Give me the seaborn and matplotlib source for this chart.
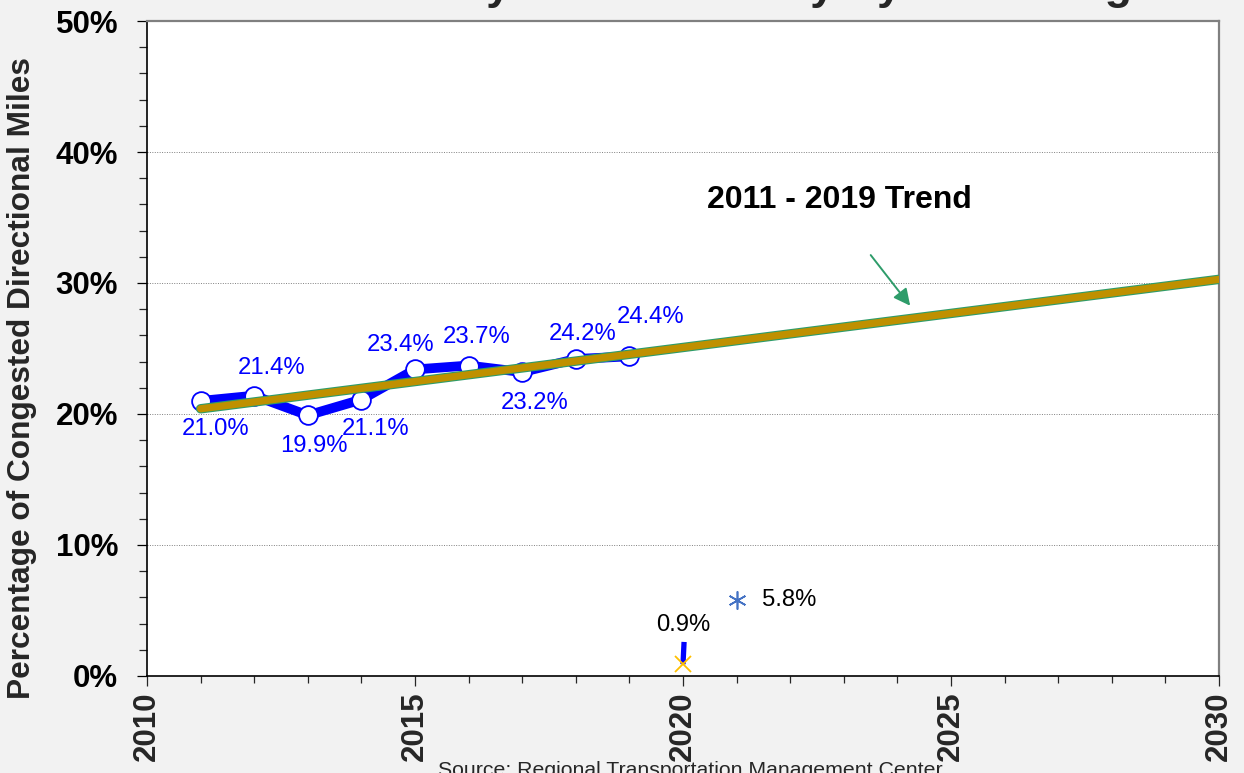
import numpy as np
import matplotlib
matplotlib.use('Agg')
import matplotlib.pyplot as plt
import matplotlib.patheffects as pe
from matplotlib.ticker import MultipleLocator, FuncFormatter
import seaborn as sns

# ---- data ----
years = [2011, 2012, 2013, 2014, 2015, 2016, 2017, 2018, 2019]
congested_pct = [21.0, 21.4, 19.9, 21.1, 23.4, 23.7, 23.2, 24.2, 24.4]
point_labels = ['21.0%', '21.4%', '19.9%', '21.1%', '23.4%', '23.7%', '23.2%', '24.2%', '24.4%']

year_2020 = [2020]
pct_2020 = [0.9]
# short blue stub drawn up from the 2020 point
stub_2020_years = [2020, 2020.02]
stub_2020_pct = [0.9, 2.6]

year_2021 = [2021]
pct_2021 = [5.8]

trend_span = [2011, 2030]
trend_label = '2011 - 2019 Trend'

# label offsets in pixels (dx, dy) from each point
label_offsets = [(15, -28), (17, 28), (6, -31), (14, -29), (-14, 24),
                 (8, 29), (12, -31), (7, 25), (21, 39)]

BLUE = '#0000ff'
GOLD = '#bf9000'
GREEN = '#2e9c6a'

sns.set_style('white')
plt.rcParams['font.family'] = ['Liberation Sans', 'DejaVu Sans']

fig = plt.figure(figsize=(12.44, 7.73), dpi=100, facecolor='#f2f2f2')
ax = fig.add_axes([0.11817, 0.12549, 0.86173, 0.84734])
ax.set_facecolor('white')

# 2011-2019 observed series
sns.lineplot(x=years, y=congested_pct, ax=ax, color=BLUE, lw=7, marker='o',
             markersize=13.5, markerfacecolor='white', markeredgecolor=BLUE,
             markeredgewidth=1.3, zorder=3)

for yr, val, txt, (dx, dy) in zip(years, congested_pct, point_labels, label_offsets):
    ax.annotate(txt, (yr, val), xytext=(dx, dy), textcoords='offset pixels',
                ha='center', va='center', color=BLUE, fontsize=17.2, zorder=6)

# 2020 and 2021 points
ax.plot(stub_2020_years, stub_2020_pct, color=BLUE, lw=3.8, solid_capstyle='butt', zorder=3)
ax.plot(year_2020, pct_2020, ls='none', marker='x', color='#ffc000', markersize=12,
        markeredgewidth=1.3, zorder=4)
ax.annotate('0.9%', (year_2020[0], pct_2020[0]), xytext=(0, 39), textcoords='offset pixels',
            ha='center', va='center', color='black', fontsize=17.2)

ax.plot(year_2021, pct_2021, ls='none', marker=(6, 2, 0), color='#4472c4', markersize=13,
        markeredgewidth=1.2, zorder=4)
ax.annotate('5.8%', (year_2021[0], pct_2021[0]), xytext=(25, 0), textcoords='offset pixels',
            ha='left', va='center', color='black', fontsize=17.2)

# linear trend fitted to 2011-2019
slope, intercept = np.polyfit(years, congested_pct, 1)
trend_x = np.array(trend_span)
trend_y = slope * trend_x + intercept
ax.plot(trend_x, trend_y, color=GOLD, lw=5.2, solid_capstyle='round', zorder=5,
        path_effects=[pe.Stroke(linewidth=6.8, foreground=GREEN), pe.Normal()])

ax.text(0.6455, 0.7267, trend_label, transform=ax.transAxes, ha='center', va='center',
        fontsize=23, fontweight='bold', color='black')
ax.annotate('', xy=(2024.27, slope * 2024.27 + intercept + 0.8), xytext=(2023.47, 32.3),
            arrowprops=dict(arrowstyle='-|>', color=GREEN, lw=1.4, mutation_scale=25))

# axes
ax.set_xlim(2010, 2030)
ax.set_ylim(0, 50)
ax.xaxis.set_major_locator(MultipleLocator(5))
ax.xaxis.set_minor_locator(MultipleLocator(1))
ax.yaxis.set_major_locator(MultipleLocator(10))
ax.yaxis.set_minor_locator(MultipleLocator(2))
ax.yaxis.set_major_formatter(FuncFormatter(lambda v, p: f'{v:.0f}%'))
ax.xaxis.set_major_formatter(FuncFormatter(lambda v, p: f'{v:.0f}'))
ax.tick_params(axis='y', which='major', direction='out', length=7.2, width=0.9,
               pad=13.5, labelsize=22.5, colors='black', left=True)
ax.tick_params(axis='y', which='minor', direction='out', length=5.8, width=0.9, left=True)
ax.tick_params(axis='x', which='major', direction='out', length=7, width=0.9,
               pad=4, labelsize=22.5, labelrotation=90, bottom=True)
ax.tick_params(axis='x', which='minor', direction='out', length=5, width=0.9, bottom=True)
for lab in ax.get_xticklabels() + ax.get_yticklabels():
    lab.set_fontweight('bold')

ax.grid(axis='y', which='major', color='#808080', ls=(0, (1, 1.5)), lw=0.7)
ax.grid(axis='x', visible=False)

for side in ['left', 'bottom']:
    ax.spines[side].set_color('black')
    ax.spines[side].set_linewidth(1.2)
for side in ['top', 'right']:
    ax.spines[side].set_color('#808080')
    ax.spines[side].set_linewidth(1.6)
for s in ax.spines.values():
    s.set_visible(True)

ax.set_ylabel('')
fig.text(22 / 1244, 1 - 378 / 773, 'Percentage of Congested Directional Miles', rotation=90,
         ha='center', va='center', fontsize=22.8, fontweight='bold')

# title sits mostly above the canvas, only descenders show (as in the reference)
fig.text(380 / 1244, 1 + 1 / 773, 'Yearly Metro Freeway System Congestion', ha='left',
         va='baseline', fontsize=32, fontweight='bold')

fig.text(690 / 1244, -3 / 773, 'Source: Regional Transportation Management Center',
         ha='center', va='baseline', fontsize=15.3)

fig.savefig('out.png', dpi=100, facecolor=fig.get_facecolor())
